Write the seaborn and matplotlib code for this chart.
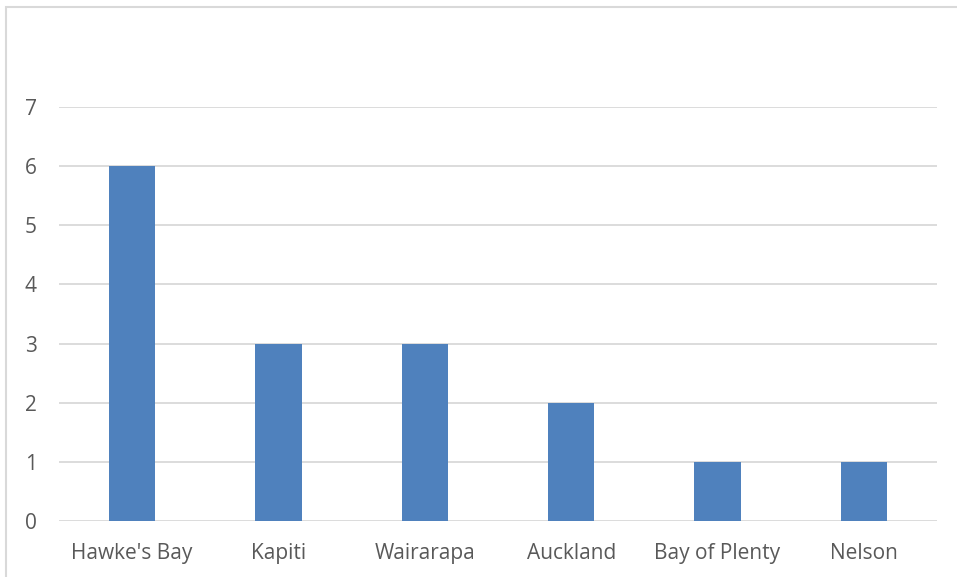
import matplotlib
matplotlib.use("Agg")
import matplotlib.pyplot as plt
import seaborn as sns
import pandas as pd
from matplotlib.patches import Rectangle

regions = ["Hawke's Bay", "Kapiti", "Wairarapa", "Auckland", "Bay of Plenty", "Nelson"]
counts = [6, 3, 3, 2, 1, 1]
y_ticks = [0, 1, 2, 3, 4, 5, 6, 7]

df = pd.DataFrame({"region": regions, "count": counts})

sns.set_theme(style="white")
plt.rcParams["font.family"] = ["Open Sans", "DejaVu Sans"]

fig = plt.figure(figsize=(9.57, 5.77), dpi=100)
ax = fig.add_axes([59 / 957, 1 - 521 / 577, (937 - 59) / 957, (521 - 107) / 577])

sns.barplot(data=df, x="region", y="count", color="#4F81BD", saturation=1,
            width=0.315, linewidth=0, ax=ax, zorder=3)

ax.set_ylim(0, 7)
ax.set_yticks(y_ticks)
ax.set_xlim(-0.5, len(regions) - 0.5)
ax.yaxis.grid(True, color="#D9D9D9", linewidth=1.3, zorder=0)
ax.set_axisbelow(True)
for s in ax.spines.values():
    s.set_visible(False)
ax.tick_params(axis="both", length=0, labelsize=15, labelcolor="#595959")
ax.tick_params(axis="y", pad=16)
ax.tick_params(axis="x", pad=16)
ax.set_xlabel("")
ax.set_ylabel("")

# chart frame
fig.patches.append(Rectangle((6 / 957, -0.1), 1.2, 1 - 7 / 577 + 0.1,
                             transform=fig.transFigure, fill=False,
                             edgecolor="#D9D9D9", linewidth=1.5))

fig.savefig("out.png", dpi=100)
